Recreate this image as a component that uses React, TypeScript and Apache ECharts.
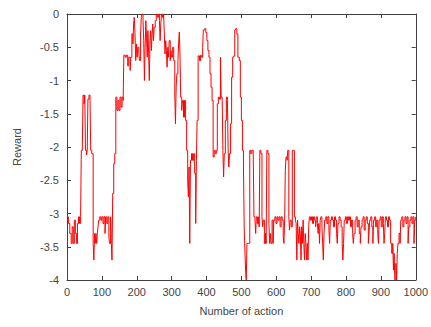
import React, { useEffect, useRef } from "react";
import * as echarts from "echarts";

// Action index at which each reward value was logged
const actions: number[] = [
  0, 4, 8, 12, 15, 18, 21, 24, 27, 30, 33, 36, 39, 41, 44, 46, 49, 51, 53, 56, 58, 60, 63, 66, 68, 71, 75, 77, 79, 81,
  83, 85, 87, 89, 91, 94, 97, 100, 103, 106, 109, 111, 114, 117, 120, 122, 125, 127, 129, 131, 134, 137, 140, 143, 146,
  149, 152, 155, 158, 161, 163, 167, 170, 174, 177, 181, 183, 186, 189, 191, 193, 195, 197, 199, 201, 203, 206, 208,
  211, 213, 215, 218, 220, 222, 224, 226, 228, 230, 232, 234, 236, 238, 240, 242, 244, 246, 248, 250, 253, 256, 259,
  262, 265, 267, 269, 271, 274, 277, 279, 281, 283, 285, 287, 289, 291, 293, 296, 298, 300, 303, 306, 309, 311, 313,
  315, 318, 320, 322, 324, 326, 329, 331, 334, 337, 340, 343, 346, 348, 350, 352, 354, 357, 360, 363, 366, 369, 371,
  373, 376, 380, 383, 386, 389, 391, 395, 398, 401, 404, 407, 410, 413, 416, 419, 422, 425, 428, 431, 434, 437, 440,
  442, 445, 447, 449, 451, 454, 457, 460, 462, 464, 466, 469, 472, 475, 478, 481, 484, 487, 490, 494, 497, 500, 503,
  506, 508, 510, 512, 514, 516, 520, 524, 527, 530, 534, 536, 539, 541, 543, 546, 549, 551, 553, 556, 559, 561, 563,
  566, 569, 571, 573, 576, 579, 581, 583, 585, 588, 591, 593, 596, 599, 602, 605, 608, 611, 614, 617, 620, 622, 624,
  626, 628, 631, 633, 636, 638, 640, 643, 646, 649, 652, 655, 657, 659, 661, 663, 665, 667, 669, 671, 673, 675, 677,
  679, 681, 683, 685, 687, 689, 691, 693, 695, 698, 701, 704, 707, 710, 713, 715, 718, 720, 722, 724, 726, 728, 731,
  733, 735, 737, 739, 742, 745, 748, 751, 753, 755, 758, 761, 764, 767, 770, 773, 775, 777, 780, 783, 786, 789, 791,
  793, 795, 798, 801, 804, 807, 810, 813, 816, 819, 821, 823, 826, 829, 832, 835, 838, 841, 843, 846, 849, 852, 855,
  858, 861, 864, 866, 868, 871, 874, 877, 879, 882, 885, 888, 891, 893, 895, 898, 901, 904, 907, 909, 911, 913, 916,
  919, 922, 925, 928, 931, 934, 936, 938, 940, 943, 945, 947, 949, 952, 955, 957, 960, 963, 966, 969, 972, 975, 978,
  980, 983, 986, 989, 992, 995, 997, 1000,
];

// Reward observed at each of those actions
const rewards: number[] = [
  -3.05, -3.15, -3.3, -3.45, -3.2, -3.45, -3.1, -3.3, -3.45, -3.15, -3.05, -3.15, -3.05, -2.05, -2.0, -1.22, -1.35,
  -1.22, -2.05, -2.12, -2.05, -1.28, -1.22, -1.3, -2.05, -2.1, -3.45, -3.7, -3.3, -3.45, -3.3, -3.45, -3.3, -3.2,
  -3.1, -3.05, -3.1, -3.05, -3.15, -3.05, -3.3, -3.05, -3.15, -3.05, -3.35, -3.45, -3.05, -3.45, -3.7, -2.7, -2.25,
  -2.1, -1.25, -1.45, -1.3, -1.45, -1.25, -1.4, -1.25, -1.3, -0.62, -0.65, -0.62, -0.78, -0.65, -0.85, -0.65, -0.3,
  -0.45, -0.15, -0.05, -0.3, -0.7, -0.45, -0.65, -0.5, -0.6, -0.7, -0.3, -0.05, 0, -0.1, -0.4, -1.0, -0.5, -0.1,
  -0.35, -0.65, -0.25, -0.6, -1.0, -0.4, -0.25, -0.55, -0.3, -0.15, -0.4, -0.2, -0.1, 0, -0.05, 0, -0.1, -0.4, -0.15,
  0, -0.05, 0, -0.3, -0.6, -0.4, -0.55, -0.8, -0.5, -0.65, -0.4, -0.7, -0.55, -0.65, -0.5, -0.7, -1.2, -1.65, -1.1,
  -0.9, -0.7, -0.45, -0.27, -0.6, -1.25, -1.45, -1.3, -1.55, -1.3, -1.6, -2.05, -2.5, -2.75, -2.3, -3.45, -2.2, -2.1,
  -2.2, -2.1, -2.4, -3.15, -2.2, -1.6, -0.63, -0.7, -0.62, -0.65, -0.5, -0.24, -0.22, -0.28, -0.4, -0.55, -0.65, -0.9,
  -1.1, -1.3, -2.15, -2.05, -2.1, -2.05, -1.35, -1.25, -1.28, -0.65, -1.25, -1.3, -2.05, -2.45, -2.1, -1.6, -1.25,
  -1.3, -2.05, -2.3, -2.1, -1.65, -0.95, -0.65, -0.63, -0.24, -0.22, -0.3, -0.65, -0.7, -1.25, -1.6, -2.05, -2.3,
  -3.2, -3.55, -3.85, -4.0, -3.45, -3.45, -2.05, -2.1, -2.05, -2.1, -3.05, -3.1, -3.3, -3.05, -3.15, -3.05, -3.2,
  -2.05, -2.1, -3.05, -3.2, -3.1, -3.45, -3.3, -3.45, -2.05, -2.1, -3.15, -3.45, -3.3, -3.45, -3.1, -3.45, -3.1,
  -3.05, -3.15, -3.05, -3.1, -3.05, -3.2, -3.05, -3.1, -3.35, -3.45, -3.1, -2.35, -2.15, -2.2, -2.05, -3.05, -3.25,
  -3.1, -3.2, -2.05, -2.05, -3.05, -3.1, -3.15, -3.7, -3.1, -3.3, -3.45, -3.2, -3.3, -3.7, -3.2, -3.45, -3.1, -3.45,
  -3.7, -3.3, -3.45, -3.7, -3.45, -3.7, -3.2, -3.05, -3.1, -3.05, -3.15, -3.05, -3.1, -3.2, -3.05, -3.15, -3.3,
  -3.15, -3.45, -3.1, -3.05, -3.2, -3.45, -3.7, -3.3, -3.1, -3.05, -3.15, -3.05, -3.25, -3.45, -3.1, -3.05, -3.1,
  -3.2, -3.05, -3.1, -3.3, -3.45, -3.15, -3.05, -3.1, -3.2, -3.45, -3.7, -3.45, -3.1, -3.05, -3.15, -3.05, -3.1,
  -3.05, -3.2, -3.1, -3.3, -3.45, -3.3, -3.1, -3.05, -3.2, -3.1, -3.3, -3.45, -3.2, -3.1, -3.05, -3.25, -3.1, -3.05,
  -3.15, -3.45, -3.3, -3.1, -3.05, -3.2, -3.45, -3.1, -3.05, -3.2, -3.1, -3.3, -3.45, -3.1, -3.05, -3.2, -3.05, -3.15,
  -3.45, -3.3, -3.05, -3.1, -3.2, -3.05, -3.1, -3.45, -3.6, -3.45, -3.85, -3.6, -4.0, -3.75, -4.0, -3.6, -3.45, -3.3,
  -3.45, -3.1, -3.05, -3.2, -3.1, -3.05, -3.15, -3.05, -3.45, -3.2, -3.1, -3.05, -3.15, -3.05, -3.45, -3.1, -3.05,
];

const xTicks = { min: 0, max: 1000, interval: 100 };
const yTicks = { min: -4, max: 0, interval: 0.5 };

const FONT = "'Liberation Sans', Arial, sans-serif";
const AXIS_COLOR = "#404040";
const LABEL_COLOR = "#444";

export default function App() {
  const ref = useRef<HTMLDivElement>(null);

  useEffect(() => {
    if (!ref.current) return;
    const chart = echarts.init(ref.current, undefined, { renderer: "svg" });

    const frameAxis = {
      axisLine: { show: true, onZero: false, lineStyle: { color: AXIS_COLOR, width: 1 } },
      axisTick: { show: true, inside: true, length: 4, lineStyle: { color: AXIS_COLOR } },
      splitLine: { show: false },
    };

    chart.setOption({
      animation: false,
      backgroundColor: "#fff",
      textStyle: { fontFamily: FONT },
      grid: { left: 67, right: 14, top: 14, bottom: 47, containLabel: false },
      xAxis: [
        {
          type: "value",
          ...xTicks,
          position: "bottom",
          ...frameAxis,
          axisLabel: {
            color: LABEL_COLOR,
            fontSize: 11,
            fontFamily: FONT,
            margin: 6,
            formatter: (v: number) => String(v),
          },
          name: "Number of action",
          nameLocation: "middle",
          nameGap: 25,
          nameTextStyle: { color: LABEL_COLOR, fontSize: 11, fontFamily: FONT },
        },
        {
          type: "value",
          ...xTicks,
          position: "top",
          ...frameAxis,
          axisLabel: { show: false },
        },
      ],
      yAxis: [
        {
          type: "value",
          ...yTicks,
          position: "left",
          ...frameAxis,
          axisLabel: {
            color: LABEL_COLOR,
            fontSize: 11,
            fontFamily: FONT,
            margin: 8,
            formatter: (v: number) => String(v),
          },
          name: "Reward",
          nameLocation: "middle",
          nameGap: 45,
          nameTextStyle: { color: LABEL_COLOR, fontSize: 11, fontFamily: FONT },
        },
        {
          type: "value",
          ...yTicks,
          position: "right",
          ...frameAxis,
          axisLabel: { show: false },
        },
      ],
      series: [
        {
          type: "line",
          xAxisIndex: 0,
          yAxisIndex: 0,
          data: actions.map((a, i) => [a, rewards[i]]),
          step: "end",
          showSymbol: false,
          lineStyle: { color: "#ff0000", width: 1 },
          clip: true,
        },
      ],
    });

    return () => chart.dispose();
  }, []);

  return (
    <div
      ref={ref}
      style={{ position: "fixed", left: 0, top: 0, width: 431, height: 327 }}
    />
  );
}
